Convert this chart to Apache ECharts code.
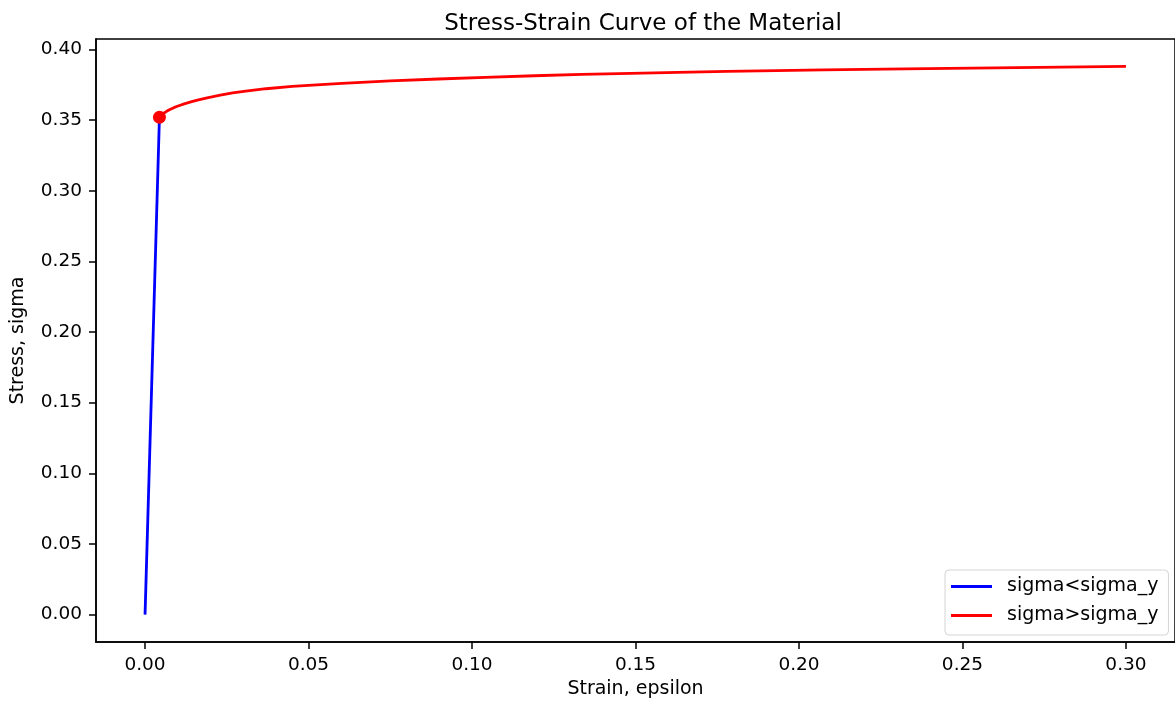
<!DOCTYPE html>
<html>
<head>
<meta charset="utf-8">
<script src="https://cdn.jsdelivr.net/npm/echarts@6/dist/echarts.min.js"></script>
<style>
html,body{margin:0;padding:0;background:#fff;}
#chart{width:1175px;height:704px;}
</style>
</head>
<body>
<div id="chart"></div>
<script>
// Data
const elasticStrain = [0, 0.0044];
const elasticStress = [0, 0.352];
const plasticStrain = [0.0044, 0.0050, 0.0058, 0.0066, 0.0076, 0.0088, 0.0101, 0.0120, 0.0140, 0.016, 0.019, 0.023, 0.0268, 0.0308, 0.037, 0.045, 0.0525, 0.0602, 0.075, 0.0897, 0.104, 0.1191, 0.1336, 0.1486, 0.163, 0.178, 0.193, 0.2075, 0.22, 0.2325, 0.246, 0.26, 0.28, 0.30];
const plasticStress = [0.352, 0.3535, 0.3550, 0.3562, 0.3575, 0.3588, 0.3600, 0.3615, 0.3629, 0.3641, 0.3658, 0.3676, 0.3692, 0.3705, 0.3722, 0.3738, 0.3750, 0.3760, 0.3777, 0.3791, 0.3803, 0.3814, 0.3823, 0.3831, 0.3838, 0.3845, 0.3850, 0.3855, 0.3859, 0.3862, 0.3866, 0.3870, 0.3875, 0.3880];
const yieldPoint = [0.0044, 0.352];
const xTicks = [0, 0.05, 0.10, 0.15, 0.20, 0.25, 0.30];
const yTicks = [0, 0.05, 0.10, 0.15, 0.20, 0.25, 0.30, 0.35, 0.40];

const FONT = 'DejaVu Sans';
const zip = (a, b) => a.map((v, i) => [v, b[i]]);

const chart = echarts.init(document.getElementById('chart'), null, {renderer: 'canvas'});
chart.setOption({
  animation: false,
  backgroundColor: '#ffffff',
  title: {
    text: 'Stress-Strain Curve of the Material',
    left: 638, top: 8, textAlign: 'center',
    textStyle: {fontFamily: FONT, fontSize: 23, fontWeight: 'normal', color: '#000'}
  },
  grid: {
    left: 96, top: 39, width: 1085, height: 606,
    show: true, borderColor: '#000', borderWidth: 1.5, backgroundColor: 'transparent'
  },
  legend: {
    orient: 'vertical',
    left: 945, top: 570,
    data: [{name: 'sigma<sigma_y', icon: 'rect'}, {name: 'sigma>sigma_y', icon: 'rect'}],
    itemWidth: 41, itemHeight: 3, itemGap: 10,
    padding: [7, 10, 10, 6],
    borderColor: '#d4d4d4', borderWidth: 1, borderRadius: 4,
    backgroundColor: 'rgba(255,255,255,0.8)',
    textStyle: {fontFamily: FONT, fontSize: 19, color: '#000', padding: [0, 0, 0, 10], lineHeight: 19}
  },
  xAxis: {
    type: 'value', min: -0.015, max: 0.315,
    name: 'Strain, epsilon', nameLocation: 'middle', nameGap: 38,
    nameTextStyle: {fontFamily: FONT, fontSize: 19, color: '#000'},
    axisLine: {show: true, onZero: false, lineStyle: {color: '#000', width: 1.5}},
    axisTick: {show: true, inside: false, length: 7, lineStyle: {color: '#000', width: 1.5}, customValues: xTicks},
    axisLabel: {show: true, margin: 14, fontFamily: FONT, fontSize: 18.5, color: '#000',
      customValues: xTicks, formatter: v => v.toFixed(2)},
    splitLine: {show: false}
  },
  yAxis: {
    type: 'value', min: -0.0194, max: 0.4074,
    name: 'Stress, sigma', nameLocation: 'middle', nameGap: 68, nameRotate: 90,
    nameTextStyle: {fontFamily: FONT, fontSize: 19, color: '#000'},
    axisLine: {show: true, onZero: false, lineStyle: {color: '#000', width: 1.5}},
    axisTick: {show: true, inside: false, length: 7, lineStyle: {color: '#000', width: 1.5}, customValues: yTicks},
    axisLabel: {show: true, margin: 14, fontFamily: FONT, fontSize: 18.5, color: '#000',
      customValues: yTicks, formatter: v => v.toFixed(2)},
    splitLine: {show: false}
  },
  series: [
    {
      name: 'sigma<sigma_y', type: 'line', data: zip(elasticStrain, elasticStress),
      showSymbol: false, symbol: 'none', color: '#0000ff',
      lineStyle: {color: '#0000ff', width: 2.8}, z: 2
    },
    {
      name: 'sigma>sigma_y', type: 'line', data: zip(plasticStrain, plasticStress),
      showSymbol: false, symbol: 'none', color: '#ff0000', smooth: false,
      lineStyle: {color: '#ff0000', width: 2.8, join: 'round'}, z: 3
    },
    {
      name: 'yield', type: 'scatter', data: [yieldPoint],
      symbol: 'circle', symbolSize: 13, itemStyle: {color: '#ff0000', opacity: 1}, z: 4
    }
  ]
});
</script>
</body>
</html>
